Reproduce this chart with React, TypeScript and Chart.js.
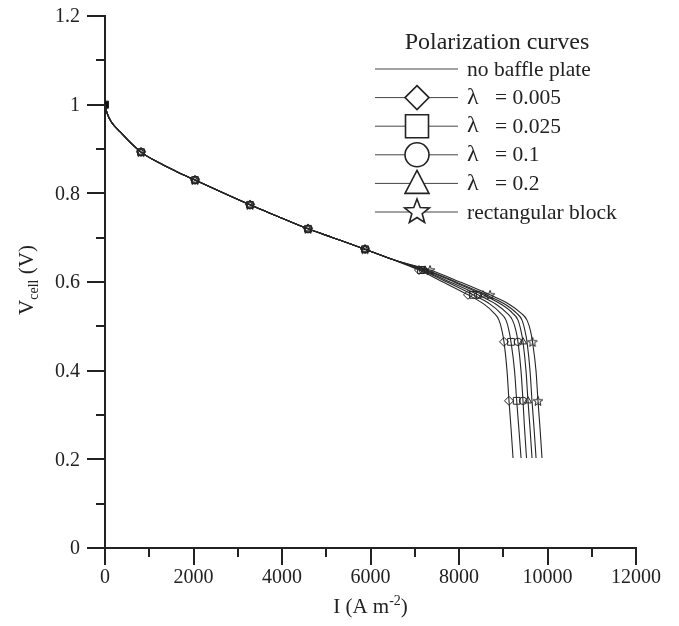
import { useEffect, useRef } from "react";
import { Chart, registerables } from "chart.js";
Chart.register(...registerables);

// Cell voltage levels (V) shared by all curves
const voltageLevels = [1.0, 0.98, 0.96, 0.94, 0.92, 0.893, 0.87, 0.85, 0.83, 0.8, 0.774, 0.75, 0.72, 0.7, 0.674, 0.65, 0.627, 0.6, 0.571, 0.55, 0.53, 0.514, 0.49, 0.465, 0.4, 0.332, 0.27, 0.203];
// Current density (A m^-2) common to all curves for V >= 0.65
const sharedCurrent = [0, 50, 150, 330, 520, 814, 1200, 1600, 2034, 2690, 3277, 3855, 4588, 5150, 5876, 6520];
// Tails (V <= 0.627) for each case
const tailNoBaffle = [7277, 7933, 8611, 9040, 9300, 9424, 9492, 9537, 9605, 9650, 9696, 9741];
const tailL0005 = [7096, 7639, 8204, 8565, 8791, 8904, 8972, 9017, 9085, 9130, 9176, 9221];
const tailL0025 = [7141, 7729, 8317, 8701, 8938, 9062, 9130, 9175, 9255, 9304, 9352, 9402];
const tailL01 = [7186, 7797, 8430, 8836, 9085, 9209, 9288, 9333, 9401, 9446, 9481, 9526];
const tailL02 = [7232, 7888, 8543, 8949, 9209, 9333, 9401, 9446, 9514, 9559, 9605, 9650];
const tailBlock = [7345, 8023, 8701, 9130, 9401, 9537, 9616, 9661, 9740, 9785, 9831, 9876];
// Voltages where symbols are drawn
const markerVoltages = [1.0, 0.893, 0.83, 0.774, 0.72, 0.674, 0.627, 0.571, 0.465, 0.332];

const seriesNames = ["no baffle plate", "λ = 0.005", "λ = 0.025", "λ = 0.1", "λ = 0.2", "rectangular block"];
const seriesTails = [tailNoBaffle, tailL0005, tailL0025, tailL01, tailL02, tailBlock];
const seriesMarkers = ["none", "diamond", "square", "circle", "triangle", "star"];

const xTickLabels = [0, 2000, 4000, 6000, 8000, 10000, 12000];
const yTickLabels = [0, 0.2, 0.4, 0.6, 0.8, 1, 1.2];

const FONT = '"Liberation Serif", "Times New Roman", serif';
const INK = "#222";
const TOP = 16; // canvas starts at the page top

function starPath(ctx: CanvasRenderingContext2D, cx: number, cy: number, R: number) {
  const r = R * 0.42;
  ctx.beginPath();
  for (let i = 0; i < 10; i++) {
    const a = -Math.PI / 2 + (i * Math.PI) / 5;
    const rad = i % 2 === 0 ? R : r;
    const px = cx + rad * Math.cos(a);
    const py = cy + rad * Math.sin(a);
    if (i === 0) ctx.moveTo(px, py);
    else ctx.lineTo(px, py);
  }
  ctx.closePath();
}

function makeStarCanvas(R: number, lw: number) {
  const size = Math.ceil(2 * R + 4);
  const c = document.createElement("canvas");
  c.width = size;
  c.height = size;
  const g = c.getContext("2d")!;
  g.strokeStyle = INK;
  g.lineWidth = lw;
  starPath(g, size / 2, size / 2 + 0.5, R);
  g.stroke();
  return c;
}

function drawLegendMarker(ctx: CanvasRenderingContext2D, type: string, cx: number, cy: number) {
  ctx.beginPath();
  if (type === "diamond") {
    ctx.moveTo(cx, cy - 12);
    ctx.lineTo(cx + 12, cy);
    ctx.lineTo(cx, cy + 12);
    ctx.lineTo(cx - 12, cy);
    ctx.closePath();
  } else if (type === "square") {
    ctx.rect(cx - 11.5, cy - 11.5, 23, 23);
  } else if (type === "circle") {
    ctx.arc(cx, cy, 12, 0, Math.PI * 2);
  } else if (type === "triangle") {
    ctx.moveTo(cx, cy - 13);
    ctx.lineTo(cx + 12, cy + 10);
    ctx.lineTo(cx - 12, cy + 10);
    ctx.closePath();
  } else if (type === "star") {
    starPath(ctx, cx, cy, 13);
  } else {
    return;
  }
  ctx.fillStyle = "#fff";
  ctx.fill();
  ctx.stroke();
}

const decorPlugin = {
  id: "decor",
  afterDraw(chart: any) {
    const ctx: CanvasRenderingContext2D = chart.ctx;
    const xs = chart.scales.x;
    const ys = chart.scales.y;
    const area = chart.chartArea;
    ctx.save();
    ctx.strokeStyle = INK;
    ctx.lineWidth = 2;
    // x ticks (outside, below)
    for (let v = 0; v <= 12000; v += 1000) {
      const px = Math.round(xs.getPixelForValue(v));
      const len = v % 2000 === 0 ? 17 : 9;
      ctx.beginPath();
      ctx.moveTo(px, area.bottom);
      ctx.lineTo(px, area.bottom + len);
      ctx.stroke();
    }
    // y ticks (outside, left)
    for (let i = 0; i <= 12; i++) {
      const v = i / 10;
      const py = Math.round(ys.getPixelForValue(v));
      const len = i % 2 === 0 ? 18 : 9;
      ctx.beginPath();
      ctx.moveTo(area.left, py);
      ctx.lineTo(area.left - len, py);
      ctx.stroke();
    }

    // y tick labels
    ctx.fillStyle = INK;
    ctx.font = `20px ${FONT}`;
    ctx.textAlign = "right";
    ctx.textBaseline = "middle";
    for (const v of yTickLabels) {
      const py = ys.getPixelForValue(v);
      ctx.fillText(String(v), area.left - 25, py + 1);
    }

    // axis titles
    ctx.textBaseline = "alphabetic";
    // x title: I (A m^-2)
    {
      const big = `21px ${FONT}`;
      const small = `14px ${FONT}`;
      const p1 = "I (A m";
      const p2 = "-2";
      const p3 = ")";
      ctx.font = big;
      const w1 = ctx.measureText(p1).width;
      const w3 = ctx.measureText(p3).width;
      ctx.font = small;
      const w2 = ctx.measureText(p2).width;
      const total = w1 + w2 + w3;
      let x0 = (area.left + area.right) / 2 - total / 2;
      const base = 613;
      ctx.textAlign = "left";
      ctx.font = big;
      ctx.fillText(p1, x0, base);
      x0 += w1;
      ctx.font = small;
      ctx.fillText(p2, x0, base - 8);
      x0 += w2;
      ctx.font = big;
      ctx.fillText(p3, x0, base);
    }
    // y title: V_cell (V)
    {
      ctx.save();
      ctx.translate(25, 280);
      ctx.rotate(-Math.PI / 2);
      const big = `21px ${FONT}`;
      const small = `14px ${FONT}`;
      const p1 = "V";
      const p2 = "cell";
      const p3 = " (V)";
      ctx.font = big;
      const w1 = ctx.measureText(p1).width;
      const w3 = ctx.measureText(p3).width;
      ctx.font = small;
      const w2 = ctx.measureText(p2).width;
      let x0 = -(w1 + w2 + w3) / 2;
      ctx.textAlign = "left";
      ctx.font = big;
      ctx.fillText(p1, x0, 0);
      x0 += w1;
      ctx.font = small;
      ctx.fillText(p2, x0, 5);
      x0 += w2;
      ctx.font = big;
      ctx.fillText(p3, x0, 0);
      ctx.restore();
    }

    // legend
    ctx.textAlign = "center";
    ctx.textBaseline = "middle";
    ctx.font = `24px ${FONT}`;
    ctx.fillText("Polarization curves", 489, 43);
    const rowY0 = 69;
    const rowGap = 28.6;
    ctx.textAlign = "left";
    for (let i = 0; i < seriesNames.length; i++) {
      const yy = rowY0 + i * rowGap;
      ctx.strokeStyle = "#444";
      ctx.lineWidth = 1;
      ctx.beginPath();
      ctx.moveTo(367, yy);
      ctx.lineTo(450, yy);
      ctx.stroke();
      ctx.strokeStyle = INK;
      ctx.lineWidth = 1.6;
      drawLegendMarker(ctx, seriesMarkers[i], 409, yy);
      ctx.fillStyle = INK;
      ctx.font = `21.5px ${FONT}`;
      const name = seriesNames[i];
      if (name.startsWith("λ")) {
        ctx.font = `24px ${FONT}`;
        ctx.fillText("λ", 459, yy);
        ctx.font = `21.5px ${FONT}`;
        ctx.fillText(name.slice(2), 487, yy + 1);
      } else {
        ctx.fillText(name, 459, yy + 1);
      }
    }
    ctx.restore();
  },
};

export default function App() {
  const canvasRef = useRef<HTMLCanvasElement | null>(null);

  useEffect(() => {
    if (!canvasRef.current) return;
    const smallStar = makeStarCanvas(5, 1);

    const curveDatasets: any[] = [];
    const markerDatasets: any[] = [];
    seriesNames.forEach((name, si) => {
      const current = sharedCurrent.concat(seriesTails[si]);
      const pts = voltageLevels.map((v, i) => ({ x: current[i], y: v }));
      curveDatasets.push({
        label: name,
        data: pts,
        showLine: true,
        borderColor: "#262626",
        borderWidth: 1.1,
        pointRadius: 0,
        cubicInterpolationMode: "monotone",
      });
      const type = seriesMarkers[si];
      if (type === "none") return;
      const mpts = pts.filter((p) => markerVoltages.includes(p.y));
      const styleMap: Record<string, any> = {
        diamond: "rectRot",
        square: "rect",
        circle: "circle",
        triangle: "triangle",
        star: smallStar,
      };
      const radiusMap: Record<string, number> = {
        diamond: 4.5,
        square: 4.8,
        circle: 3.7,
        triangle: 4.2,
        star: 5,
      };
      const r = radiusMap[type];
      markerDatasets.push({
        label: name + " symbols",
        data: mpts,
        showLine: false,
        pointStyle: styleMap[type],
        pointRadius: (c: any) => (c.dataIndex === 0 ? (type === "square" ? 5 : 0) : r),
        pointBorderColor: INK,
        pointBorderWidth: 1,
        pointBackgroundColor: (c: any) => (c.dataIndex === 0 ? "#111" : "rgba(255,255,255,0)"),
      });
    });

    const chart = new Chart(canvasRef.current, {
      type: "scatter",
      data: { datasets: [...curveDatasets, ...markerDatasets] },
      options: {
        animation: false,
        responsive: true,
        maintainAspectRatio: false,
        layout: { padding: { top: TOP, right: 35, left: 0, bottom: 0 } },
        plugins: { legend: { display: false }, tooltip: { enabled: false } },
        scales: {
          x: {
            type: "linear",
            min: 0,
            max: 12000,
            afterFit: (s: any) => {
              s.height = 70;
              s.paddingLeft = 0;
              s.paddingRight = 0;
            },
            afterBuildTicks: (s: any) => {
              s.ticks = xTickLabels.map((v) => ({ value: v }));
            },
            grid: { display: false, drawTicks: false },
            border: { display: true, color: INK, width: 2 },
            ticks: {
              padding: 18,
              color: INK,
              font: { family: FONT, size: 20 },
              maxRotation: 0,
              callback: (v: any) => String(v),
            },
          },
          y: {
            type: "linear",
            min: 0,
            max: 1.2,
            afterFit: (s: any) => {
              s.width = 97;
              s.paddingTop = 0;
              s.paddingBottom = 0;
            },
            afterBuildTicks: (s: any) => {
              s.ticks = yTickLabels.map((v) => ({ value: v }));
            },
            grid: { display: false, drawTicks: false },
            border: { display: true, color: INK, width: 2 },
            ticks: { display: false },
          },
        },
      },
      plugins: [decorPlugin],
    });
    return () => chart.destroy();
  }, []);

  return (
    <div style={{ width: 663, height: 618, marginTop: -8, position: "relative", background: "#fff" }}>
      <canvas ref={canvasRef} />
    </div>
  );
}
